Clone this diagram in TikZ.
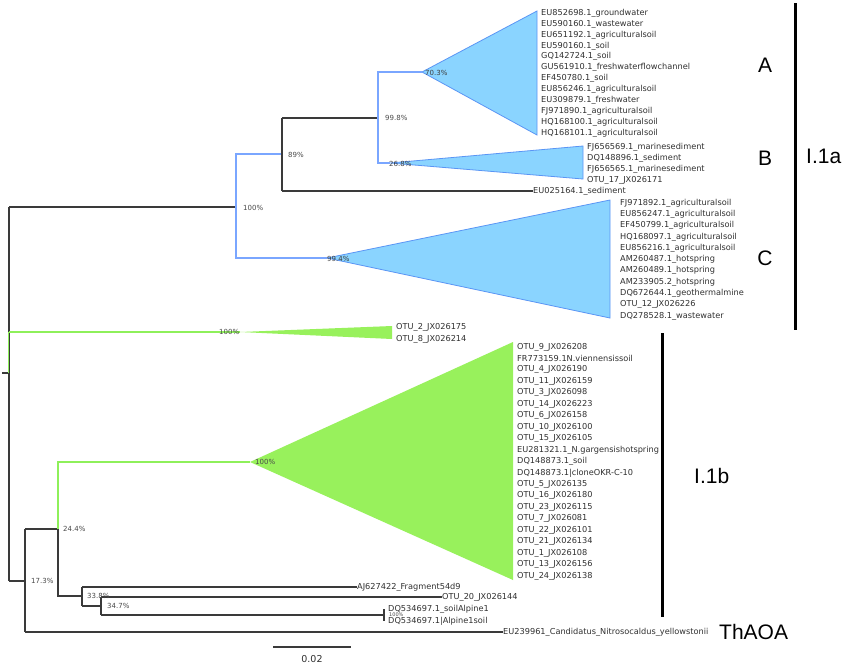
\documentclass[tikz,border=0pt]{standalone}
\usepackage{fontspec}
\setmainfont{DejaVu Sans}
\newfontfamily\bigfont{Liberation Sans}
\definecolor{blueline}{HTML}{7AA6FF}
\definecolor{bluefill}{HTML}{8AD4FF}
\definecolor{blueedge}{HTML}{5A95F5}
\definecolor{greenline}{HTML}{8EF05A}
\definecolor{greenfill}{HTML}{98F15C}
\definecolor{treegray}{HTML}{3A3A3A}
\definecolor{tipgray}{HTML}{303030}
\definecolor{labgray}{HTML}{4A4A4A}
\tikzset{
  br/.style={draw=treegray, line width=1.1pt},
  bb/.style={draw=blueline, line width=1.2pt},
  bg/.style={draw=greenline, line width=1.1pt},
  bluetri/.style={fill=bluefill, draw=blueedge, line width=0.8pt, line join=miter},
  greentri/.style={fill=greenfill, draw=none},
  tip/.style={anchor=west, inner sep=0pt, font=\fontsize{8.2}{9}\selectfont, text=tipgray},
  nl/.style={anchor=west, inner sep=0pt, font=\fontsize{7}{8}\selectfont, text=labgray},
  big/.style={inner sep=0pt, font=\bigfont\fontsize{21}{24}\selectfont, text=black},
  bar/.style={draw=black, line width=3pt}
}
\begin{document}
\begin{tikzpicture}[x=1pt,y=-1pt]
\useasboundingbox (0,0) rectangle (843,665);
\fill[white] (0,0) rectangle (843,665);

% ---- internal node coordinates
\coordinate (root0) at (2,373);
\coordinate (root) at (9,373);
\coordinate (rtop) at (9,207);
\coordinate (rgreen) at (9,332);
\coordinate (rbot) at (9,581);
\coordinate (n100) at (236,207);
\coordinate (n100t) at (236,154);
\coordinate (n100b) at (236,258);
\coordinate (n89) at (282,154);
\coordinate (n89t) at (282,118);
\coordinate (n89b) at (282,191);
\coordinate (n998) at (378,118);
\coordinate (n998t) at (378,72);
\coordinate (n998b) at (378,163);
\coordinate (aA) at (422,72);
\coordinate (aB) at (390,163);
\coordinate (aC) at (327,258);
\coordinate (aG) at (240,332);
\coordinate (n173) at (25,581);
\coordinate (n173t) at (25,529);
\coordinate (n173b) at (25,632);
\coordinate (n244) at (58,529);
\coordinate (n244t) at (58,462);
\coordinate (n244b) at (58,596);
\coordinate (aI) at (250,462);
\coordinate (n338) at (82,596);
\coordinate (n338t) at (82,587);
\coordinate (n338b) at (82,606);
\coordinate (n347) at (101,606);
\coordinate (n347t) at (101,597);
\coordinate (n347b) at (101,615);
\coordinate (nDQ) at (384,615);
\coordinate (nDQt) at (384,609);
\coordinate (nDQb) at (384,621);

% ---- clade triangles
\filldraw[bluetri] (aA) -- (537,11) -- (537,135) -- cycle;
\filldraw[bluetri] (aB) -- (583,146) -- (583,179) -- cycle;
\filldraw[bluetri] (aC) -- (610,200) -- (610,318) -- cycle;
\fill[greentri] (aG) -- (392,326) -- (392,339) -- cycle;
\fill[greentri] (aI) -- (513,342) -- (513,580) -- cycle;

% ---- tip labels
\foreach \t [count=\i from 0] in {EU852698.1\_groundwater,EU590160.1\_wastewater,EU651192.1\_agriculturalsoil,EU590160.1\_soil,GQ142724.1\_soil,GU561910.1\_freshwaterflowchannel,EF450780.1\_soil,EU856246.1\_agriculturalsoil,EU309879.1\_freshwater,FJ971890.1\_agriculturalsoil,HQ168100.1\_agriculturalsoil,HQ168101.1\_agriculturalsoil}
  \node[tip] (tA\i) at (541,13+10.95*\i) {\t};
\foreach \t [count=\i from 0] in {FJ656569.1\_marinesediment,DQ148896.1\_sediment,FJ656565.1\_marinesediment,OTU\_17\_JX026171}
  \node[tip] (tB\i) at (587,147+11*\i) {\t};
\foreach \t [count=\i from 0] in {FJ971892.1\_agriculturalsoil,EU856247.1\_agriculturalsoil,EF450799.1\_agriculturalsoil,HQ168097.1\_agriculturalsoil,EU856216.1\_agriculturalsoil,AM260487.1\_hotspring,AM260489.1\_hotspring,AM233905.2\_hotspring,DQ672644.1\_geothermalmine,OTU\_12\_JX026226,DQ278528.1\_wastewater}
  \node[tip] (tC\i) at (620,203+11.3*\i) {\t};
\foreach \t [count=\i from 0] in {OTU\_9\_JX026208,FR773159.1N.viennensissoil,OTU\_4\_JX026190,OTU\_11\_JX026159,OTU\_3\_JX026098,OTU\_14\_JX026223,OTU\_6\_JX026158,OTU\_10\_JX026100,OTU\_15\_JX026105,EU281321.1\_N.gargensishotspring,DQ148873.1\_soil,DQ148873.1|cloneOKR-C-10,OTU\_5\_JX026135,OTU\_16\_JX026180,OTU\_23\_JX026115,OTU\_7\_JX026081,OTU\_22\_JX026101,OTU\_21\_JX026134,OTU\_1\_JX026108,OTU\_13\_JX026156,OTU\_24\_JX026138}
  \node[tip] (tI\i) at (517,347+11.45*\i) {\t};
\node[tip] (tEU025) at (533,191) {EU025164.1\_sediment};
\node[tip] (tOTU2) at (396,327) {OTU\_2\_JX026175};
\node[tip] (tOTU8) at (396,339) {OTU\_8\_JX026214};
\node[tip] (tAJ) at (357,587) {AJ627422\_Fragment54d9};
\node[tip] (tOTU20) at (442,597) {OTU\_20\_JX026144};
\node[tip] (tDQ1) at (388,609) {DQ534697.1\_soilAlpine1};
\node[tip] (tDQ2) at (388,621) {DQ534697.1|Alpine1soil};
\node[tip] (tEU239) at (503,632) {EU239961\_Candidatus\_Nitrosocaldus\_yellowstonii};

% ---- branches
\draw[br] (root0) -- (root);
\draw[br] (rtop) -- (rbot);
\draw[draw=greenline, line width=0.7pt] ([xshift=-0.6pt]rgreen) -- ([xshift=-0.6pt]root);
\draw[br] (rtop) -- (n100);
\draw[bb] (n89) -- (n100t) -- (n100b) -- (aC);
\draw[br] (n89t) -- (n89b);
\draw[br] (n89t) -- (n998);
\draw[br] (n89b) -- (tEU025.west);
\draw[bb] (aA) -- (n998t) -- (n998b) -- (aB);
\draw[bg] (rgreen) -- (aG);
\draw[br] (rbot) -- (n173);
\draw[br] (n173t) -- (n173b);
\draw[br] (n173t) -- (n244);
\draw[bg] (n244) -- (n244t) -- (aI);
\draw[br] (n244) -- (n244b) -- (n338);
\draw[br] (n338t) -- (n338b);
\draw[br] (n338t) -- (tAJ.west);
\draw[br] (n338b) -- (n347);
\draw[br] (n347t) -- (n347b);
\draw[br] (n347t) -- (tOTU20.west);
\draw[br] (n347b) -- (nDQ);
\draw[br] (nDQt) -- (nDQb);
\draw[br] (n173b) -- (tEU239.west);

% ---- support values
\node[nl] (l100a) at (243,208) {100\%};
\node[nl] (l89) at (288,155) {89\%};
\node[nl] (l998) at (385,118) {99.8\%};
\node[nl, text=black!75] (l703) at (425,73) {70.3\%};
\node[nl, text=black!75] (l268) at (389,164) {26.8\%};
\node[nl, text=black!75] (l994) at (327,259) {99.4\%};
\node[nl] (l100g) at (219,332) {100\%};
\node[nl] (l100i) at (255,462) {100\%};
\node[nl] (l244) at (63,529) {24.4\%};
\node[nl] (l173) at (31,581) {17.3\%};
\node[nl] (l338) at (87,596) {33.8\%};
\node[nl] (l347) at (107,606) {34.7\%};
\node[nl, font=\fontsize{5}{6}\selectfont] (l100d) at (389,615) {100\%};

% ---- scale bar
\coordinate (sb0) at (273,647);
\coordinate (sb1) at (351,647);
\draw[br] (sb0) -- (sb1);
\node[inner sep=0pt, font=\fontsize{9.5}{11}\selectfont, text=tipgray] (sbl) at (312,659) {0.02};

% ---- group bars and labels
\coordinate (barAt) at (795,3);
\coordinate (barAb) at (795,330);
\coordinate (barBt) at (662,333);
\coordinate (barBb) at (662,617);
\draw[bar] (barAt) -- (barAb);
\draw[bar] (barBt) -- (barBb);
\node[big] (gA) at (765,65) {A};
\node[big] (gB) at (765,158) {B};
\node[big] (gC) at (765,258) {C};
\node[big, anchor=west] (gI1a) at (806,156) {I.1a};
\node[big, anchor=west] (gI1b) at (694,476) {I.1b};
\node[big, anchor=west] (gTh) at (719,632) {ThAOA};
\end{tikzpicture}
\end{document}
